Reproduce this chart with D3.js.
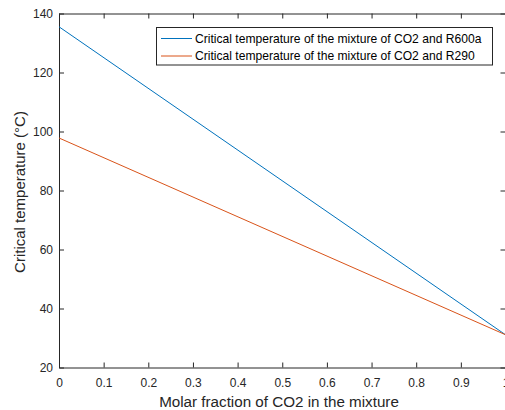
<!DOCTYPE html>
<html>
<head>
<meta charset="utf-8">
<script src="https://cdn.jsdelivr.net/npm/d3@7"></script>
<style>
body { margin: 0; background: #fff; }
svg { font-family: "Liberation Sans", Arial, sans-serif; }
</style>
</head>
<body>
<svg id="chart" width="505" height="410"></svg>
<script>
// data
let fractions = [0, 1];
let tR600a = [135.5, 31.1];
let tR290 = [97.8, 31.1];
let seriesNames = ["Critical temperature of the mixture of CO2 and R600a",
	"Critical temperature of the mixture of CO2 and R290"];
let seriesColors = ["#0072BD", "#D95319"];
let xTicks = [0, 0.1, 0.2, 0.3, 0.4, 0.5, 0.6, 0.7, 0.8, 0.9, 1];
let yTicks = [20, 40, 60, 80, 100, 120, 140];

let pLeft = 59, pRight = 505.5, pTop = 13.5, pBottom = 367.5;
let svg = d3.select("#chart");

let x = d3.scaleLinear().domain([0, 1]).range([pLeft, pRight]);
let y = d3.scaleLinear().domain([20, 140]).range([pBottom, pTop]);

let axisColor = "#262626";
let tickLen = 5;

function styleAxis(g) {
	g.select(".domain").attr("stroke", axisColor).attr("stroke-width", 1);
	g.selectAll(".tick line").attr("stroke", axisColor);
	g.selectAll(".tick text").attr("fill", axisColor).attr("font-size", "12px")
		.attr("font-family", "Liberation Sans, Arial, sans-serif");
}

// bottom axis, ticks inward
svg.append("g")
	.attr("transform", "translate(0," + pBottom + ")")
	.call(d3.axisBottom(x).tickValues(xTicks).tickFormat(d3.format("")).tickSizeInner(-tickLen).tickSizeOuter(0).tickPadding(11))
	.call(styleAxis);

// top axis, no labels
svg.append("g")
	.attr("transform", "translate(0," + pTop + ")")
	.call(d3.axisTop(x).tickValues(xTicks).tickFormat("").tickSizeInner(-tickLen).tickSizeOuter(0))
	.call(styleAxis);

// left axis
svg.append("g")
	.attr("transform", "translate(" + pLeft + ",0)")
	.call(d3.axisLeft(y).tickValues(yTicks).tickSizeInner(-tickLen).tickSizeOuter(0).tickPadding(6))
	.call(styleAxis);

// right axis
svg.append("g")
	.attr("transform", "translate(" + pRight + ",0)")
	.call(d3.axisRight(y).tickValues(yTicks).tickFormat("").tickSizeInner(-tickLen).tickSizeOuter(0))
	.call(styleAxis);

// lines
let line = d3.line().x(d => x(d[0])).y(d => y(d[1]));
let allSeries = [tR600a, tR290];
allSeries.forEach((vals, i) => {
	svg.append("path")
		.datum(fractions.map((f, j) => [f, vals[j]]))
		.attr("fill", "none")
		.attr("stroke", seriesColors[i])
		.attr("stroke-width", 1)
		.attr("d", line);
});

// axis labels
svg.append("text")
	.attr("x", 279)
	.attr("y", 406.5)
	.attr("text-anchor", "middle")
	.attr("font-size", "15.2px")
	.attr("fill", axisColor)
	.text("Molar fraction of CO2 in the mixture");

svg.append("text")
	.attr("transform", "translate(25,192) rotate(-90)")
	.attr("text-anchor", "middle")
	.attr("font-size", "15px")
	.attr("fill", axisColor)
	.text("Critical temperature (°C)");

// legend
let lg = svg.append("g");
lg.append("rect")
	.attr("x", 156.5)
	.attr("y", 27.5)
	.attr("width", 336)
	.attr("height", 37.5)
	.attr("fill", "#fff")
	.attr("stroke", axisColor)
	.attr("stroke-width", 1);

seriesNames.forEach((name, i) => {
	let yy = 38.5 + i * 17.5;
	lg.append("line")
		.attr("x1", 161).attr("x2", 192)
		.attr("y1", yy).attr("y2", yy)
		.attr("stroke", seriesColors[i]);
	lg.append("text")
		.attr("x", 195)
		.attr("y", yy + 4)
		.attr("font-size", "12.1px")
		.attr("fill", "#000")
		.text(name);
});
</script>
</body>
</html>
